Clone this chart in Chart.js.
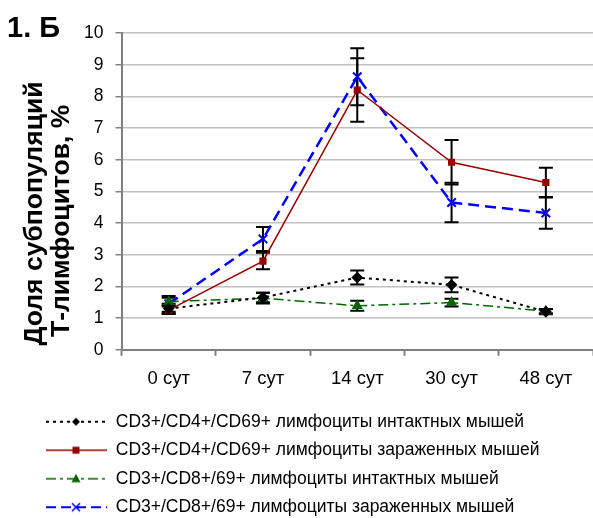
<!DOCTYPE html>
<html>
<head>
<meta charset="utf-8">
<script src="https://cdn.jsdelivr.net/npm/chart.js@4/dist/chart.umd.min.js"></script>
<style>
  body { margin: 0; background: #fff; overflow: hidden; }
  #wrap { width: 593px; height: 518px; }
</style>
</head>
<body>
<div id="wrap"><canvas id="lymphChart"></canvas></div>
<script>
const days = ['0 сут', '7 сут', '14 сут', '30 сут', '48 сут'];
const yTicks = [0, 1, 2, 3, 4, 5, 6, 7, 8, 9, 10];

const cd4Intact = [1.30, 1.65, 2.28, 2.05, 1.20];
const cd4IntactErr = [0.15, 0.15, 0.22, 0.23, 0.08];
const cd4Infected = [1.25, 2.80, 8.20, 5.92, 5.28];
const cd4InfectedErr = [0.12, 0.26, 1.00, 0.70, 0.47];
const cd8Intact = [1.52, 1.63, 1.39, 1.49, 1.22];
const cd8IntactErr = [0.12, 0.17, 0.16, 0.12, 0.07];
const cd8Infected = [1.45, 3.50, 8.62, 4.65, 4.32];
const cd8InfectedErr = [0.25, 0.38, 0.90, 0.62, 0.50];

const seriesNames = [
    'CD3+/CD4+/CD69+ лимфоциты интактных мышей',
    'CD3+/CD4+/CD69+ лимфоциты зараженных мышей',
    'CD3+/CD8+/69+ лимфоциты интактных мышей',
    'CD3+/CD8+/69+ лимфоциты зараженных мышей'
];

// trailing spaces push the rotated title a bit lower, like in the original
const yTitle = ['Доля субпопуляций      ', 'Т-лимфоцитов, %        '];

const fontFamily = 'Arial, "Liberation Sans", sans-serif';

// little picture for each legend entry: line sample + marker
function legendSample(color, dash, width, marker) {
    const c = document.createElement('canvas');
    c.width = 96;
    c.height = 16;
    const g = c.getContext('2d');
    g.strokeStyle = color;
    g.fillStyle = color;
    g.lineWidth = width;
    g.setLineDash(dash);
    g.beginPath();
    g.moveTo(35, 8);
    g.lineTo(96, 8);
    g.stroke();
    g.setLineDash([]);
    const cx = 65, cy = 8;
    g.beginPath();
    if (marker === 'diamond') {
        g.moveTo(cx, cy - 4); g.lineTo(cx + 4, cy); g.lineTo(cx, cy + 4); g.lineTo(cx - 4, cy); g.closePath(); g.fill();
    } else if (marker === 'square') {
        g.fillRect(cx - 3.5, cy - 3.5, 7, 7);
    } else if (marker === 'triangle') {
        g.moveTo(cx, cy - 5); g.lineTo(cx + 4.5, cy + 3.5); g.lineTo(cx - 4.5, cy + 3.5); g.closePath(); g.fill();
    } else {
        g.lineWidth = 1.5;
        g.moveTo(cx - 4, cy - 4); g.lineTo(cx + 4, cy + 4);
        g.moveTo(cx + 4, cy - 4); g.lineTo(cx - 4, cy + 4);
        g.stroke();
    }
    return c;
}

const samples = [
    legendSample('#000000', [3, 4], 2, 'diamond'),
    legendSample('#990000', [], 1.5, 'square'),
    legendSample('#006600', [10, 4, 3, 4], 1.5, 'triangle'),
    legendSample('#0000ff', [10, 5], 2, 'cross')
];

const errorSets = [cd4IntactErr, cd4InfectedErr, cd8IntactErr, cd8InfectedErr];

const errorBars = {
    id: 'errorBars',
    beforeDatasetsDraw(chart) {
        const ctx = chart.ctx;
        const yScale = chart.scales.y;
        ctx.save();
        ctx.strokeStyle = '#000';
        ctx.lineWidth = 2;
        chart.data.datasets.forEach((ds, i) => {
            const meta = chart.getDatasetMeta(i);
            meta.data.forEach((pt, j) => {
                const v = ds.data[j];
                const e = errorSets[i][j];
                const top = yScale.getPixelForValue(v + e);
                const bot = yScale.getPixelForValue(v - e);
                ctx.beginPath();
                ctx.moveTo(pt.x, top); ctx.lineTo(pt.x, bot);
                ctx.moveTo(pt.x - 7, top); ctx.lineTo(pt.x + 7, top);
                ctx.moveTo(pt.x - 7, bot); ctx.lineTo(pt.x + 7, bot);
                ctx.stroke();
            });
        });
        ctx.restore();
    }
};

const panelLabel = {
    id: 'panelLabel',
    afterDraw(chart) {
        const ctx = chart.ctx;
        ctx.save();
        ctx.font = 'bold 29px ' + fontFamily;
        ctx.fillStyle = '#000';
        ctx.textBaseline = 'alphabetic';
        ctx.fillText('1. Б', 7, 37);
        ctx.restore();
    }
};

const ctx = document.getElementById('lymphChart').getContext('2d');
const lymphChart = new Chart(ctx, {
    type: 'line',
    data: {
        labels: days,
        datasets: [{
            label: seriesNames[0],
            data: cd4Intact,
            borderColor: '#000000',
            backgroundColor: '#000000',
            borderWidth: 2,
            borderDash: [3, 4],
            pointStyle: 'rectRot',
            pointRadius: 4.5,
        }, {
            label: seriesNames[1],
            data: cd4Infected,
            borderColor: '#990000',
            backgroundColor: '#990000',
            borderWidth: 1.5,
            pointStyle: 'rect',
            pointRadius: 4,
        }, {
            label: seriesNames[2],
            data: cd8Intact,
            borderColor: '#006600',
            backgroundColor: '#006600',
            borderWidth: 1.5,
            borderDash: [10, 4, 3, 4],
            pointStyle: 'triangle',
            pointRadius: 5,
        }, {
            label: seriesNames[3],
            data: cd8Infected,
            borderColor: '#0000ff',
            backgroundColor: '#0000ff',
            borderWidth: 2.5,
            borderDash: [11, 6],
            pointStyle: 'crossRot',
            pointRadius: 6,
            pointBorderWidth: 2,
        }]
    },
    options: {
        responsive: true,
        maintainAspectRatio: false,
        animation: false,
        layout: {
            autoPadding: false,
            padding: { top: 33, right: 0, left: 0, bottom: -8 }
        },
        scales: {
            x: {
                offset: true,
                grid: {
                    offset: true,
                    drawOnChartArea: false,
                    tickLength: 6,
                    tickColor: '#808080',
                    tickWidth: 2,
                },
                border: { color: '#808080', width: 2 },
                ticks: {
                    color: '#000',
                    font: { family: fontFamily, size: 18.5 },
                    padding: 12,
                }
            },
            y: {
                min: 0,
                max: 10,
                afterBuildTicks(axis) {
                    axis.ticks = yTicks.map(v => ({ value: v }));
                },
                grid: {
                    color: '#c0c0c0',
                    lineWidth: 1.5,
                    tickLength: 6,
                    tickColor: '#808080',
                },
                border: { color: '#808080', width: 2 },
                ticks: {
                    color: '#000',
                    font: { family: fontFamily, size: 17.5 },
                    padding: 12,
                },
                title: {
                    display: true,
                    text: yTitle,
                    color: '#000',
                    font: { family: fontFamily, size: 26.5, weight: 'bold', lineHeight: 1.02 },
                    padding: { top: 21, bottom: -3 },
                }
            }
        },
        plugins: {
            legend: {
                display: true,
                position: 'bottom',
                align: 'start',
                labels: {
                    color: '#000',
                    font: { family: fontFamily, size: 17.5 },
                    usePointStyle: true,
                    pointStyleWidth: 96,
                    boxHeight: 16,
                    padding: 11,
                    generateLabels(chart) {
                        return chart.data.datasets.map((ds, i) => ({
                            text: ds.label,
                            pointStyle: samples[i],
                            fillStyle: 'transparent',
                            strokeStyle: 'transparent',
                            lineWidth: 0,
                            fontColor: '#000',
                            hidden: false,
                            datasetIndex: i,
                        }));
                    }
                }
            },
            tooltip: { enabled: false }
        }
    },
    plugins: [errorBars, panelLabel]
});
</script>
</body>
</html>
